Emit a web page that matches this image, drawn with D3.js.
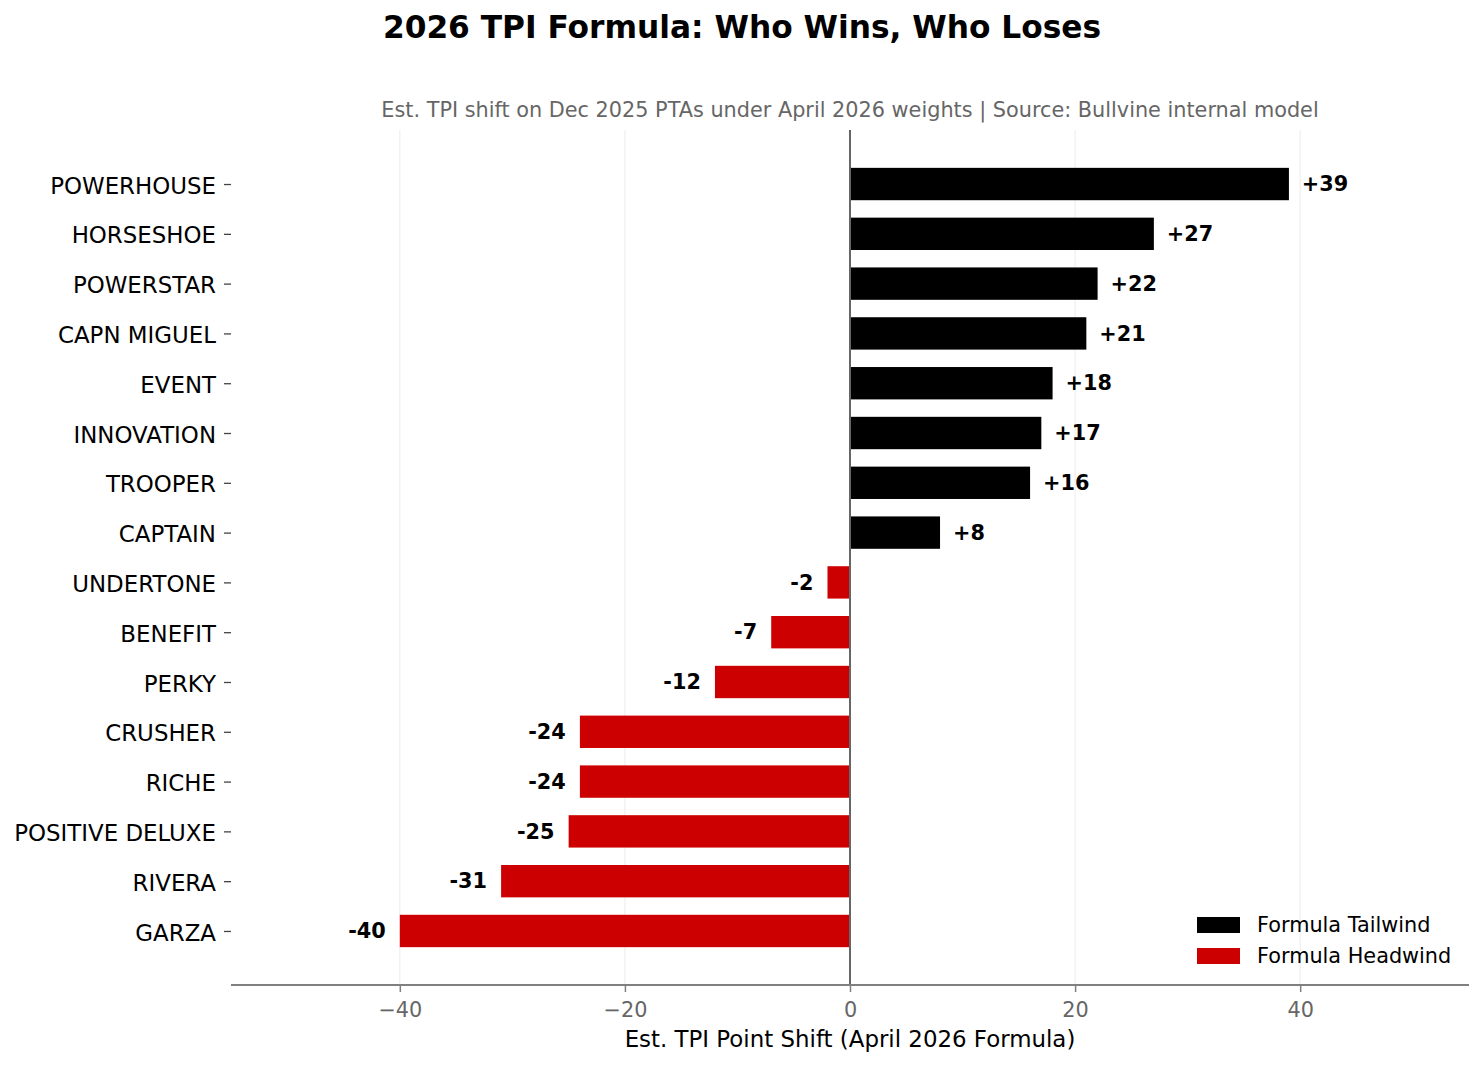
<!DOCTYPE html>
<html><head><meta charset="utf-8">
<script src="https://cdn.jsdelivr.net/npm/d3@7"></script>
<style>body{margin:0;background:#fff}svg{display:block}text{font-family:"DejaVu Sans",sans-serif}</style>
</head><body>
<svg id="c" width="1484" height="1067"></svg>
<script>
const categories = ["POWERHOUSE","HORSESHOE","POWERSTAR","CAPN MIGUEL","EVENT","INNOVATION","TROOPER","CAPTAIN","UNDERTONE","BENEFIT","PERKY","CRUSHER","RICHE","POSITIVE DELUXE","RIVERA","GARZA"];
const values = [39,27,22,21,18,17,16,8,-2,-7,-12,-24,-24,-25,-31,-40];
const xTicks = [-40,-20,0,20,40];
const legendLabels = ["Formula Tailwind","Formula Headwind"];
const colors = {pos:"#000000", neg:"#cc0000"};

const svg = d3.select("#c");
const L=231,R=1469,T=130,B=985;
const x = d3.scaleLinear().domain([-55,55]).range([L,R]);
const y = d3.scaleLinear().domain([-1.085,categories.length-1+1.085]).range([T,B]);
const bh = 0.65*(y(1)-y(0));

// grid
svg.append("g").selectAll("line").data(xTicks.filter(d=>d!==0)).join("line")
  .attr("x1",d=>x(d)).attr("x2",d=>x(d)).attr("y1",T).attr("y2",B)
  .attr("stroke","#efefef").attr("stroke-width",1.2);

// bars
svg.append("g").selectAll("rect").data(values).join("rect")
  .attr("x",d=>Math.min(x(0),x(d))).attr("width",d=>Math.abs(x(d)-x(0)))
  .attr("y",(d,i)=>y(i)-bh/2).attr("height",bh)
  .attr("fill",d=>d>=0?colors.pos:colors.neg);

// zero line
svg.append("line").attr("x1",x(0)).attr("x2",x(0)).attr("y1",T).attr("y2",B)
  .attr("stroke","#666").attr("stroke-width",2);

// value labels
svg.append("g").selectAll("text").data(values).join("text")
  .attr("x",d=>d>=0?x(d+1.15):x(d-1.25))
  .attr("y",(d,i)=>y(i)).attr("dy","0.35em")
  .attr("text-anchor",d=>d>=0?"start":"end")
  .attr("font-size",20.8).attr("font-weight","bold").attr("fill","#000")
  .text(d=>d>=0?"+"+d:"-"+Math.abs(d));

// x axis
const xa = svg.append("g").attr("transform",`translate(0,${B})`)
  .call(d3.axisBottom(x).tickValues(xTicks).tickSize(7).tickPadding(10).tickFormat(d=>d<0?"\u2212"+Math.abs(d):d));
xa.select(".domain").attr("stroke","#808080").attr("stroke-width",2).attr("d",`M${L},0H${R}`);
xa.selectAll(".tick line").attr("stroke","#808080").attr("stroke-width",1.5);
xa.selectAll(".tick text").attr("font-size",20.8).attr("fill","#666").attr("font-family","DejaVu Sans");

// y axis
const ya = svg.append("g").attr("transform",`translate(${L},0)`)
  .call(d3.axisLeft(y).tickValues(d3.range(categories.length)).tickSize(7).tickPadding(8).tickFormat(i=>categories[i]));
ya.select(".domain").remove();
ya.selectAll(".tick line").attr("stroke","#444").attr("stroke-width",1.3);
ya.selectAll(".tick text").attr("font-size",22.9).attr("fill","#000").attr("dy","0.4em").attr("font-family","DejaVu Sans");

// titles
svg.append("text").attr("x",742).attr("y",38).attr("text-anchor","middle")
  .attr("font-size",31.25).attr("font-weight","bold").text("2026 TPI Formula: Who Wins, Who Loses");
svg.append("text").attr("x",(L+R)/2).attr("y",117).attr("text-anchor","middle")
  .attr("font-size",20.8).attr("fill","#666")
  .text("Est. TPI shift on Dec 2025 PTAs under April 2026 weights | Source: Bullvine internal model");
svg.append("text").attr("x",(L+R)/2).attr("y",1047).attr("text-anchor","middle")
  .attr("font-size",22.9).attr("fill","#000").text("Est. TPI Point Shift (April 2026 Formula)");

// legend
const lg = svg.append("g").selectAll("g").data(legendLabels).join("g")
  .attr("transform",(d,i)=>`translate(1197,${925+i*31})`);
lg.append("rect").attr("x",0).attr("y",-8).attr("width",43).attr("height",16)
  .attr("fill",(d,i)=>i===0?colors.pos:colors.neg);
lg.append("text").attr("x",60).attr("y",0).attr("dy","0.35em").attr("font-size",20.8).attr("fill","#000").text(d=>d);
</script>
</body></html>
